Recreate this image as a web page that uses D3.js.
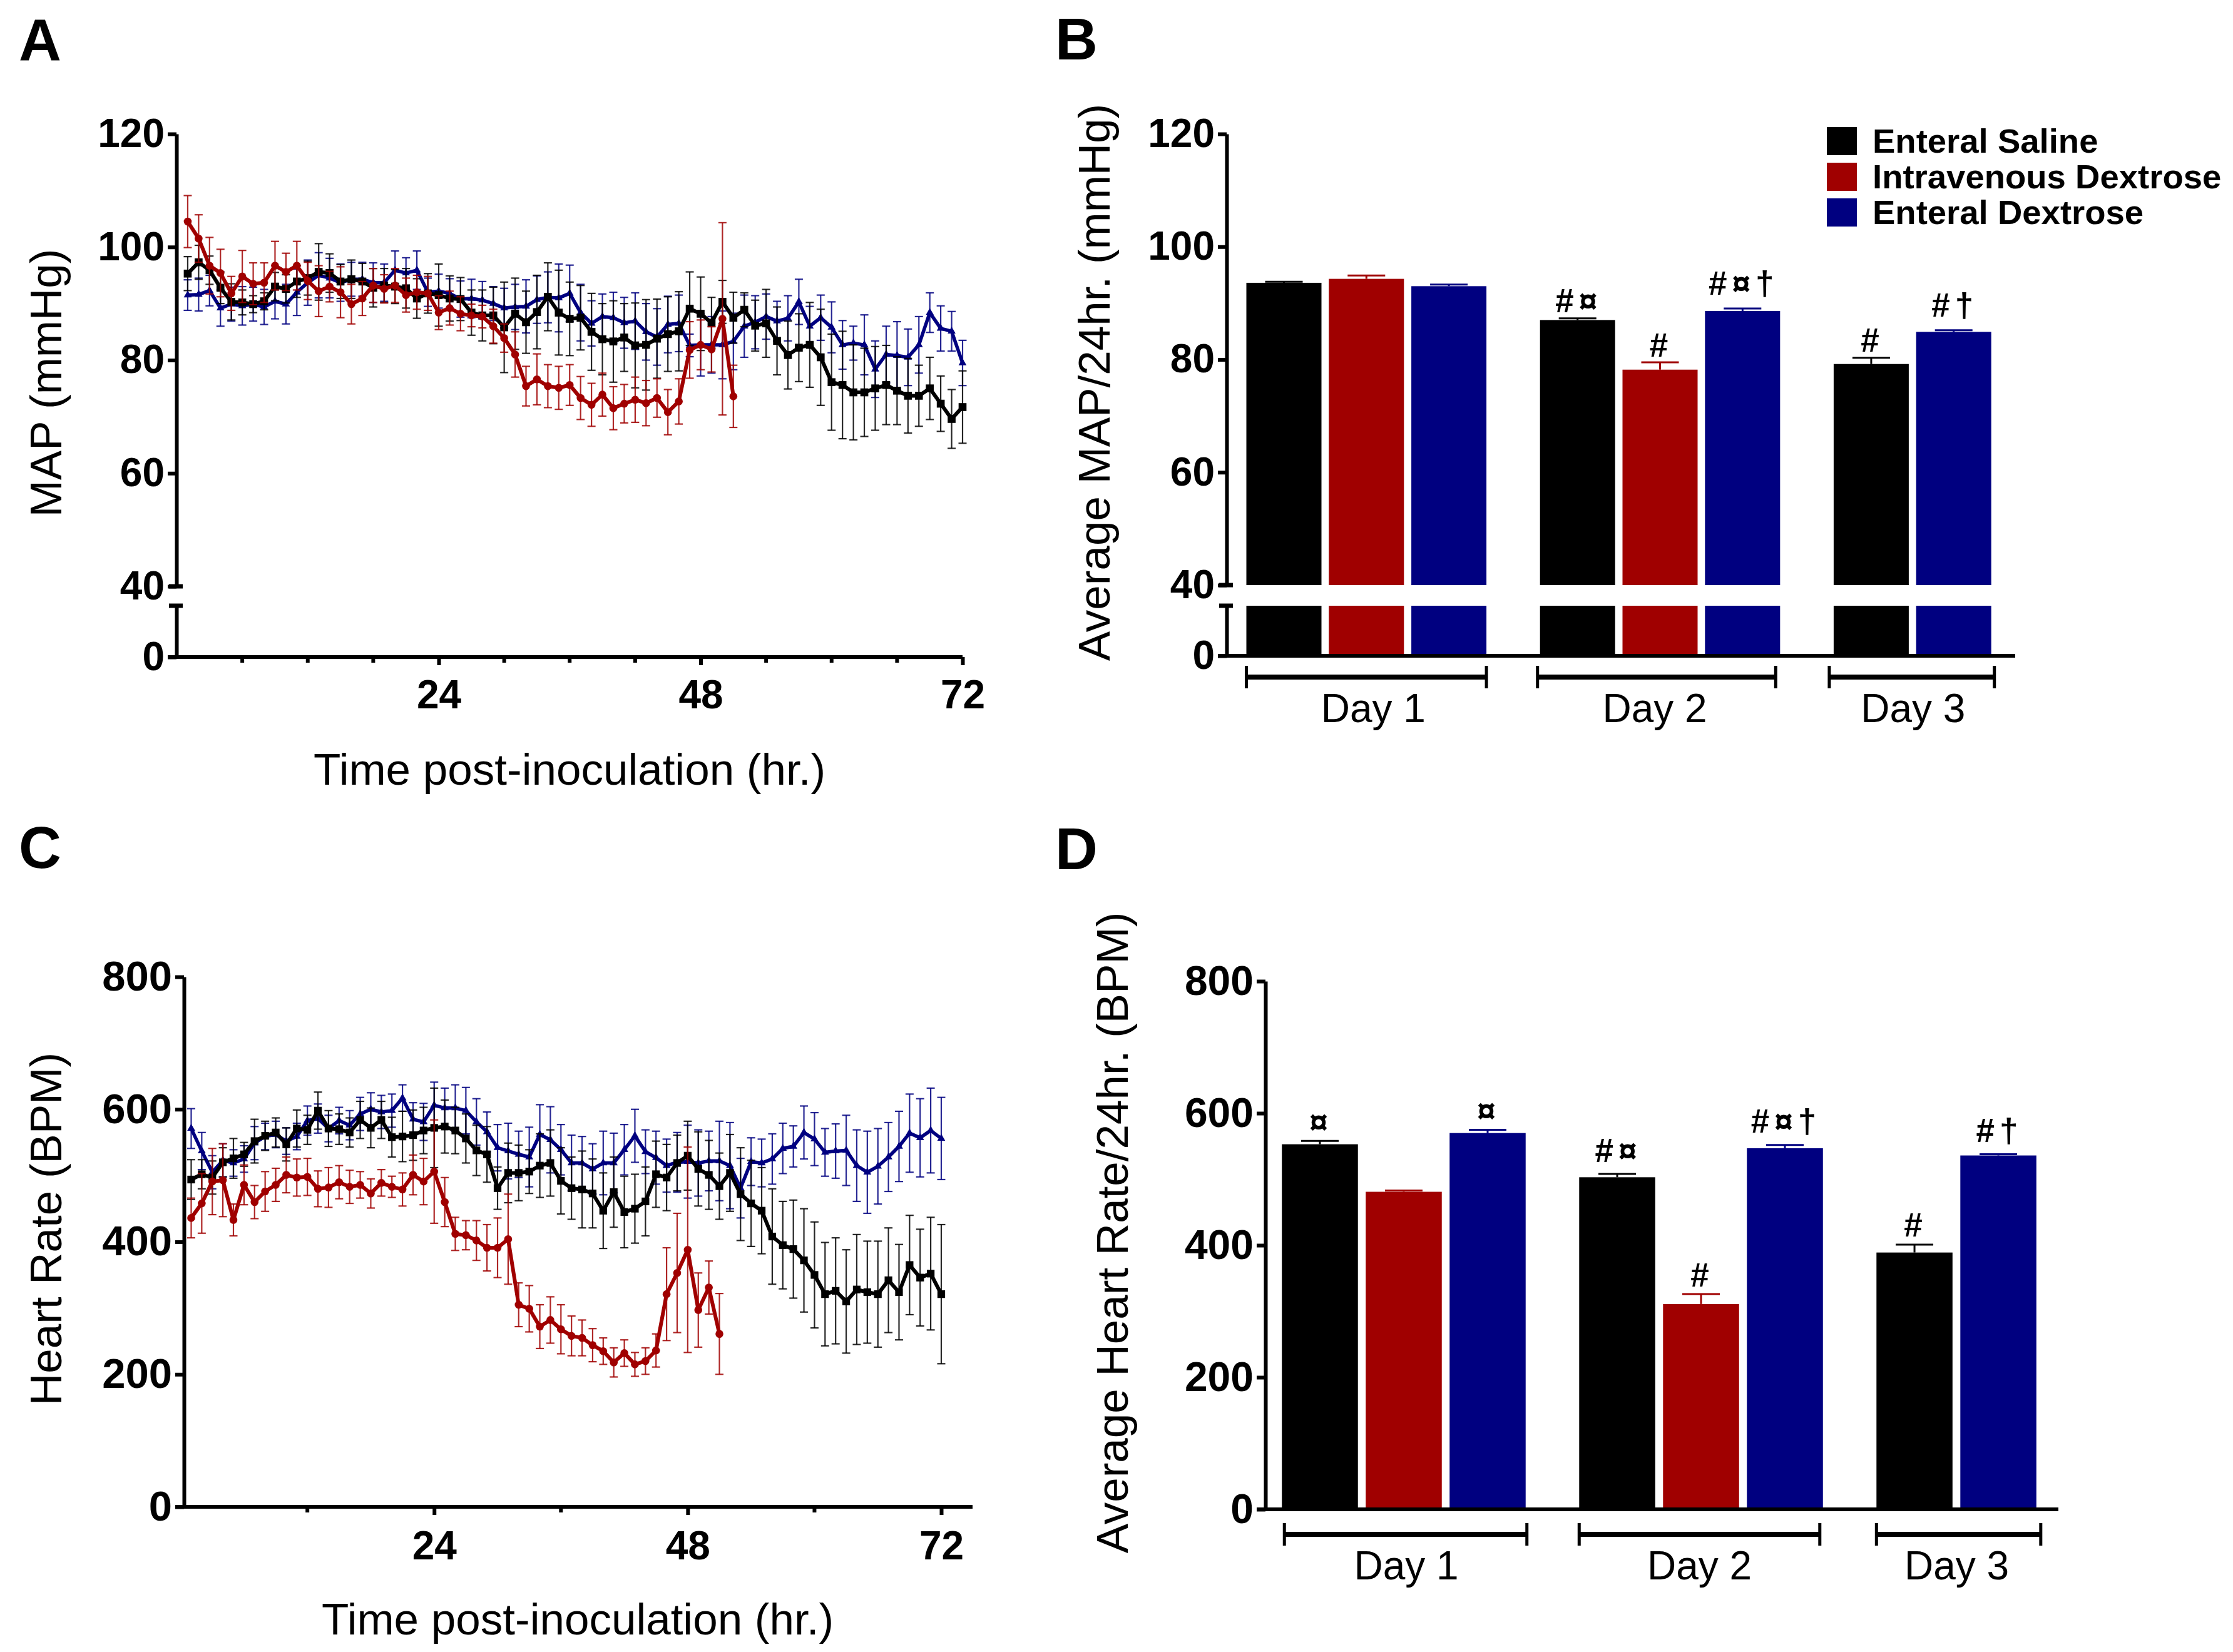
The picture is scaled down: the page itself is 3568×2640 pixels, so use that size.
<!DOCTYPE html>
<html>
<head>
<meta charset="utf-8">
<style>
  html, body { margin: 0; background: #fff; }
  text { font-family: "Liberation Sans", Arial, sans-serif; fill: #000; }
</style>
<script src="https://cdn.jsdelivr.net/npm/d3@7"></script>
</head>
<body>
<svg id="fig" width="3568" height="2640"></svg>
<script>
// <--Data--> //
const groups = ["Enteral Saline", "Intravenous Dextrose", "Enteral Dextrose"];
const groupColors = ["#000000", "#a00000", "#000080"];

const hours = d3.range(1, 73);
const hoursRed = d3.range(1, 52);

// panel A, hourly MAP
const mapSaline = [95.3,97.3,95.9,92.8,90.3,90.2,89.9,90.4,93,92.6,93.9,94.5,95.6,95.4,93.9,94.3,93.9,92.8,93.2,93,92.7,90.9,91.8,91.5,90.9,90.8,88.4,87.9,87.9,85.8,88.2,86.7,88.5,91.2,88.4,87.3,87.5,85,83.7,83.3,84,82.6,82.7,83.8,84.6,85.1,89.1,88.2,86.6,90.3,87.5,88.9,86.1,86.5,83.4,80.9,82.2,82.7,80.5,76.1,75.6,74.3,74.3,75,75.6,74.6,73.7,73.7,75,72.3,69.6,71.7];
const mapSalineErr = [3,3,2.5,2.8,3.2,2.2,1.5,1.5,2.5,2.5,2.8,3,5,3.4,3,3.4,3.2,3.4,3,3,3.5,3.5,3.5,5.5,4,3.8,4,4.5,5,8,6.3,5.5,6.5,6,7.5,6.5,5.7,6.8,6.3,7.2,6,7.5,8,7,6.6,7,6.5,6.5,4.5,3.8,4.5,3,4.5,6,6,6,6,7.5,8.5,8.5,9.5,8.4,7.8,7.4,7,6,6.6,5.4,5.5,4.9,5.2,6.4];
const mapIvDex = [104.5,101.5,96.7,95.4,91.8,94.8,93.5,93.7,96.7,95.6,96.7,94,92.2,93,92,89.9,90.9,93.2,92.6,93.2,91.5,92,91.8,88.4,89.2,88.2,87.9,87.7,86,83.9,81,75.4,76.6,75.4,75.1,75.6,73.3,72.1,73.9,71.5,72.3,73,72.4,73.3,70.8,72.7,81.8,82.7,81.9,87.3,73.6];
const mapIvDexErr = [4.6,4.2,5,4.2,3,4.6,3.7,3.5,4.3,3.3,4.3,3.3,4.5,2.7,4.5,3.5,3,3,2.5,3,3,3,3,3,3,3,2,2,3,2.5,4,3.5,4.5,3.8,3.8,3.6,3.8,3.8,3.8,3.8,3.4,4,4,3.4,4,4,5,4.4,4,17,5.5];
const mapEntDex = [91.5,91.6,92.3,89.2,89.9,89.6,89.9,89.4,90.4,89.9,92,93.7,95,94.5,93.7,94.3,94.3,93.7,93.7,95.9,95.4,95.9,92,92.2,91.8,90.8,90.9,90.6,90,89.2,89.4,89.5,90.7,91.1,91,91.8,88.4,86.5,87.7,87.5,86.6,86.9,85,84.1,86.3,86.5,82.6,82.7,82.7,82.7,83.3,86,86.7,87.7,86.9,87.4,90.3,86,87.5,85.8,82.7,83,82.7,78.4,81,80.8,80.5,82.7,88.4,85.6,85.1,79.5];
const mapEntDexErr = [2.7,2.9,2.7,3.2,3,3.4,3,3.1,3.1,3.5,4.1,4,4,3.5,3.3,3,3,3.5,3.3,3.4,2.7,3.4,2.5,3,2.6,3.2,3.4,3.3,3,3.5,4,4.7,4.2,4.5,6,5,5,4,4,4.5,4.5,5,5,5,5,5,2,5.5,5,6,5,5.5,4.7,4,3.5,4,4,3.5,4,4.5,4.3,3,5.3,5,5,6,5,5,3.5,4,3.5,4];

// panel C, hourly heart rate
const hrSaline = [494,502,497,520,526,532,552,560,565,547,571,569,598,571,570,565,584,572,584,558,559,561,568,572,574,568,556,538,532,481,504,504,506,515,519,492,481,479,473,447,475,445,450,461,502,497,519,530,510,501,484,504,472,458,447,408,395,389,372,350,321,326,310,328,324,321,342,324,365,346,352,321];
const hrSalineErr = [30,22,25,22,30,18,33,22,22,25,28,22,28,27,23,22,28,30,28,30,38,38,35,60,40,35,37,38,42,32,45,42,33,48,50,50,47,58,52,57,53,54,52,52,50,50,42,52,56,52,50,58,70,65,65,72,66,74,78,80,78,80,78,83,77,80,79,72,75,73,85,105];
const hrIvDex = [436,458,491,493,433,486,460,476,486,501,497,498,480,482,490,483,486,473,489,483,479,501,491,506,460,412,410,402,391,391,404,305,299,272,282,268,258,255,244,235,218,232,215,220,236,321,353,388,297,331,261];
const hrIvDexErr = [30,45,50,55,24,30,25,30,25,27,28,28,27,30,25,25,20,22,20,16,25,30,35,78,37,25,22,30,35,45,68,33,35,33,35,37,30,27,25,20,22,20,18,20,25,70,90,155,56,40,61];
const hrEntDex = [571,537,505,523,519,525,549,559,562,552,559,583,586,571,583,576,593,600,596,598,617,585,581,606,602,602,598,581,566,542,537,532,528,562,554,539,519,519,510,519,519,539,560,536,527,515,520,521,519,522,522,515,481,521,519,525,541,544,565,555,535,537,538,515,505,514,528,544,564,557,568,556];
const hrEntDexErr = [30,28,25,25,20,20,25,20,20,20,20,22,22,20,20,22,25,25,25,25,20,25,28,35,30,35,35,35,30,35,42,35,45,45,50,38,42,40,38,48,45,38,40,33,40,40,45,55,50,45,60,65,45,36,36,38,38,31,40,40,36,41,53,54,62,57,52,53,59,59,64,62];

// panels B and D, 24 hr averages
const dayLabels = ["Day 1", "Day 2", "Day 3"];
const barDay = [0, 0, 0, 1, 1, 1, 2, 2];
const barGroup = [0, 1, 2, 0, 1, 2, 0, 2];
const avgMap = [93.6, 94.3, 93, 87, 78.2, 88.6, 79.2, 84.9];
const avgMapErr = [0.2, 0.6, 0.3, 0.3, 1.3, 0.45, 1.1, 0.3];
const avgMapMarks = ["", "", "", "#¤", "#", "#¤†", "#", "#†"];
const avgHr = [553, 481, 570, 503, 311, 547, 389, 536];
const avgHrErr = [5, 2, 5, 5, 15, 5, 12, 2];
const avgHrMarks = ["¤", "", "¤", "#¤", "#", "#¤†", "#", "#†"];

// <--Helpers--> //
const svg = d3.select("#fig");
const titleFont = 71, axisW = 6;

function title(x, y, txt, rot) {
  svg.append("text")
    .attr("transform", "translate(" + x + "," + y + ")" + (rot ? " rotate(-90)" : ""))
    .attr("text-anchor", "middle").attr("dominant-baseline", "central")
    .style("font-size", titleFont + "px").text(txt);
}

function panelLetter(x, y, txt) {
  svg.append("text").attr("x", x).attr("y", y)
    .attr("text-anchor", "middle").attr("dominant-baseline", "central")
    .style("font-size", "94px").style("font-weight", "bold").text(txt);
}

function styleAxis(g, fontSize) {
  g.selectAll("path").attr("stroke", "#000").attr("stroke-width", axisW);
  g.selectAll("line").attr("stroke", "#000").attr("stroke-width", axisW);
  g.selectAll("text").style("font-size", fontSize + "px").style("font-weight", "bold");
}

function leftAxis(x, scale, values, fontSize) {
  const g = svg.append("g").attr("transform", "translate(" + x + ",0)")
    .call(d3.axisLeft(scale).tickValues(values).tickSize(14).tickPadding(5).tickSizeOuter(0));
  styleAxis(g, fontSize);
  return g;
}

// broken y axis, as used by A and B
function brokenAxis(x, yUp, yLow) {
  leftAxis(x, yUp, [40, 60, 80, 100, 120], 64);
  leftAxis(x, yLow, [0], 64);
  const top = yLow(yLow.domain()[1]);
  svg.append("line").attr("x1", x - 12).attr("x2", x + 10).attr("y1", top).attr("y2", top)
    .attr("stroke", "#000").attr("stroke-width", axisW + 1);
  svg.append("line").attr("x1", x - 12).attr("x2", x + 10).attr("y1", yUp(40)).attr("y2", yUp(40))
    .attr("stroke", "#000").attr("stroke-width", axisW + 1);
}

function timeSeries(x, y, ts, vals, errs, color, symbolType, symbolSize, lineW) {
  const g = svg.append("g");
  const cap = 6.5;
  const bars = g.selectAll("g").data(ts).enter().append("g")
    .attr("stroke", color).attr("stroke-width", 2.2).attr("stroke-opacity", 0.85);
  bars.append("line").attr("x1", d => x(d)).attr("x2", d => x(d))
    .attr("y1", (d, i) => y(vals[i] + errs[i])).attr("y2", (d, i) => y(vals[i] - errs[i]));
  bars.append("line").attr("x1", d => x(d) - cap).attr("x2", d => x(d) + cap)
    .attr("y1", (d, i) => y(vals[i] + errs[i])).attr("y2", (d, i) => y(vals[i] + errs[i]));
  bars.append("line").attr("x1", d => x(d) - cap).attr("x2", d => x(d) + cap)
    .attr("y1", (d, i) => y(vals[i] - errs[i])).attr("y2", (d, i) => y(vals[i] - errs[i]));
  const line = d3.line().x(d => x(d)).y((d, i) => y(vals[i]));
  g.append("path").datum(ts).attr("d", line).attr("fill", "none")
    .attr("stroke", color).attr("stroke-width", lineW).attr("stroke-linejoin", "round");
  g.selectAll("path.sym").data(ts).enter().append("path").attr("class", "sym")
    .attr("d", d3.symbol().type(symbolType).size(symbolSize))
    .attr("transform", (d, i) => "translate(" + x(d) + "," + y(vals[i]) + ")")
    .attr("fill", color);
}

function timeAxis(y0, x, xEnd, minors, tickY) {
  const g = svg.append("g").attr("transform", "translate(0," + y0 + ")");
  g.call(d3.axisBottom(x).tickValues([24, 48, 72]).tickSize(13).tickSizeOuter(0).tickFormat(d3.format("d")));
  styleAxis(g, 64);
  g.select("path").remove();
  g.selectAll("text").attr("y", tickY).attr("dy", 0).attr("dominant-baseline", "central");
  g.selectAll("line.minor").data(minors).enter().append("line").attr("class", "minor")
    .attr("x1", d => x(d)).attr("x2", d => x(d)).attr("y1", 0).attr("y2", 9)
    .attr("stroke", "#000").attr("stroke-width", axisW);
  g.append("line").attr("x1", xEnd[0]).attr("x2", xEnd[1]).attr("y1", 0).attr("y2", 0)
    .attr("stroke", "#000").attr("stroke-width", axisW);
}

function barPositions(c0, pitch, gap) {
  const slot = d3.scaleLinear().domain([0, 1]).range([c0, c0 + pitch]);
  return barDay.map((d, i) => slot(i + d * gap));
}

function errCap(cx, yBase, yTop, color, capW) {
  svg.append("line").attr("x1", cx).attr("x2", cx).attr("y1", yBase).attr("y2", yTop)
    .attr("stroke", color).attr("stroke-width", 3);
  svg.append("line").attr("x1", cx - capW).attr("x2", cx + capW).attr("y1", yTop).attr("y2", yTop)
    .attr("stroke", color).attr("stroke-width", 3);
}

function sigMark(cx, y, txt) {
  svg.append("text").attr("x", cx).attr("y", y)
    .attr("text-anchor", "middle").attr("dominant-baseline", "central")
    .style("font-size", "53px").style("font-weight", "bold").style("letter-spacing", "8px").text(txt);
}

// trims nudge each bracket's ends, shifts nudge the day labels
function dayBrackets(centers, barW, yB, yLabelOffset, trims, shifts) {
  dayLabels.forEach((lab, d) => {
    const cs = centers.filter((c, i) => barDay[i] === d);
    const x0 = d3.min(cs) - barW / 2 + trims[d][0], x1 = d3.max(cs) + barW / 2 + trims[d][1];
    const g = svg.append("g").attr("stroke", "#000");
    g.append("line").attr("x1", x0).attr("x2", x1).attr("y1", yB).attr("y2", yB).attr("stroke-width", 8);
    g.append("line").attr("x1", x0).attr("x2", x0).attr("y1", yB - 18).attr("y2", yB + 18).attr("stroke-width", 5);
    g.append("line").attr("x1", x1).attr("x2", x1).attr("y1", yB - 18).attr("y2", yB + 18).attr("stroke-width", 5);
    svg.append("text").attr("x", (x0 + x1) / 2 + shifts[d]).attr("y", yB + yLabelOffset)
      .attr("text-anchor", "middle").attr("dominant-baseline", "central")
      .style("font-size", "64px").text(lab);
  });
}

// <--Panel A--> //
const xA = d3.scaleLinear().domain([0, 72]).range([282.5, 1538]);
const yA = d3.scaleLinear().domain([40, 120]).range([937, 214]);
const yA0 = d3.scaleLinear().domain([0, 40]).range([1050, 968]);

brokenAxis(282, yA, yA0);
timeAxis(1050, xA, [268, 1538], d3.range(6, 72, 6).filter(d => d % 24), 60);
timeSeries(xA, yA, hours, mapEntDex, mapEntDexErr, groupColors[2], d3.symbolTriangle, 70, 5.5);
timeSeries(xA, yA, hours, mapSaline, mapSalineErr, groupColors[0], d3.symbolSquare, 160, 6);
timeSeries(xA, yA, hoursRed, mapIvDex, mapIvDexErr, groupColors[1], d3.symbolCircle, 125, 6);
title(73, 612, "MAP (mmHg)", true);
title(910, 1229, "Time post-inoculation (hr.)");
panelLetter(64, 64, "A");

// <--Panel B--> //
const yB = d3.scaleLinear().domain([40, 120]).range([935, 214]);
const yB0 = d3.scaleLinear().domain([0, 40]).range([1048, 968]);
const barWB = 120;
const centersB = barPositions(2051.5, 131.8, 0.56);

brokenAxis(1960, yB, yB0);
svg.selectAll("rect.barB").data(avgMap).enter().append("rect").attr("class", "barB")
  .attr("x", (d, i) => centersB[i] - barWB / 2).attr("width", barWB)
  .attr("y", d => yB(d)).attr("height", d => yB(40) - yB(d))
  .attr("fill", (d, i) => groupColors[barGroup[i]]);
svg.selectAll("rect.barB0").data(avgMap).enter().append("rect").attr("class", "barB0")
  .attr("x", (d, i) => centersB[i] - barWB / 2).attr("width", barWB)
  .attr("y", yB0(40)).attr("height", yB0(0) - yB0(40))
  .attr("fill", (d, i) => groupColors[barGroup[i]]);
avgMap.forEach((v, i) => {
  errCap(centersB[i], yB(v), yB(v + avgMapErr[i]), groupColors[barGroup[i]], 30);
  if (avgMapMarks[i]) sigMark(centersB[i] + 2, yB(v + avgMapErr[i]) - (avgMapMarks[i].includes("†") ? 40 : 28), avgMapMarks[i]);
});
svg.append("line").attr("x1", 1946).attr("x2", 3220).attr("y1", yB0(0)).attr("y2", yB0(0))
  .attr("stroke", "#000").attr("stroke-width", axisW);
dayBrackets(centersB, barWB, 1082, 50, [[0, 0], [-4, -7], [-7, 5]], [11, -3, 2]);
title(1748, 611, "Average MAP/24hr. (mmHg)", true);
panelLetter(1720, 62, "B");

// legend
const legendY = d3.scalePoint().domain(groups).range([225, 339]);
groups.forEach((g, i) => {
  svg.append("rect").attr("x", 2919).attr("width", 48).attr("y", legendY(g) - 22).attr("height", 45)
    .attr("fill", groupColors[i]);
  svg.append("text").attr("x", 2992).attr("y", legendY(g)).attr("dominant-baseline", "central")
    .style("font-size", "54.5px").style("font-weight", "bold").text(g);
});

// <--Panel C--> //
const xC = d3.scaleLinear().domain([0, 72]).range([288.6, 1504]);
const yC = d3.scaleLinear().domain([0, 800]).range([2408, 1561]);

leftAxis(294, yC, [0, 200, 400, 600, 800], 67);
timeAxis(2408, xC, [280, 1554], [12, 36, 60], 62);
timeSeries(xC, yC, hours, hrEntDex, hrEntDexErr, groupColors[2], d3.symbolTriangle, 70, 5.5);
timeSeries(xC, yC, hours, hrSaline, hrSalineErr, groupColors[0], d3.symbolSquare, 150, 6);
timeSeries(xC, yC, hoursRed, hrIvDex, hrIvDexErr, groupColors[1], d3.symbolCircle, 125, 6);
title(73, 1964, "Heart Rate (BPM)", true);
title(923, 2587, "Time post-inoculation (hr.)");
panelLetter(64, 1354, "C");

// <--Panel D--> //
const yD = d3.scaleLinear().domain([0, 800]).range([2412, 1568]);
const barWD = 121.5;
const centersD = barPositions(2109, 134, 0.545);

leftAxis(2022, yD, [0, 200, 400, 600, 800], 66);
svg.selectAll("rect.barD").data(avgHr).enter().append("rect").attr("class", "barD")
  .attr("x", (d, i) => centersD[i] - barWD / 2).attr("width", barWD)
  .attr("y", d => yD(d)).attr("height", d => yD(0) - yD(d))
  .attr("fill", (d, i) => groupColors[barGroup[i]]);
avgHr.forEach((v, i) => {
  errCap(centersD[i], yD(v), yD(v + avgHrErr[i]), groupColors[barGroup[i]], 30);
  if (avgHrMarks[i]) sigMark(centersD[i] + 2, yD(v + avgHrErr[i]) - (avgHrMarks[i].length > 1 ? 38 : 31), avgHrMarks[i]);
});
svg.append("line").attr("x1", 2008).attr("x2", 3289).attr("y1", yD(0)).attr("y2", yD(0))
  .attr("stroke", "#000").attr("stroke-width", axisW);
dayBrackets(centersD, barWD, 2452, 50, [[4, 2], [0, -5], [0, 7]], [1, 0, -3]);
title(1777, 1970, "Average Heart Rate/24hr. (BPM)", true);
panelLetter(1720, 1356, "D");
</script>
</body>
</html>
